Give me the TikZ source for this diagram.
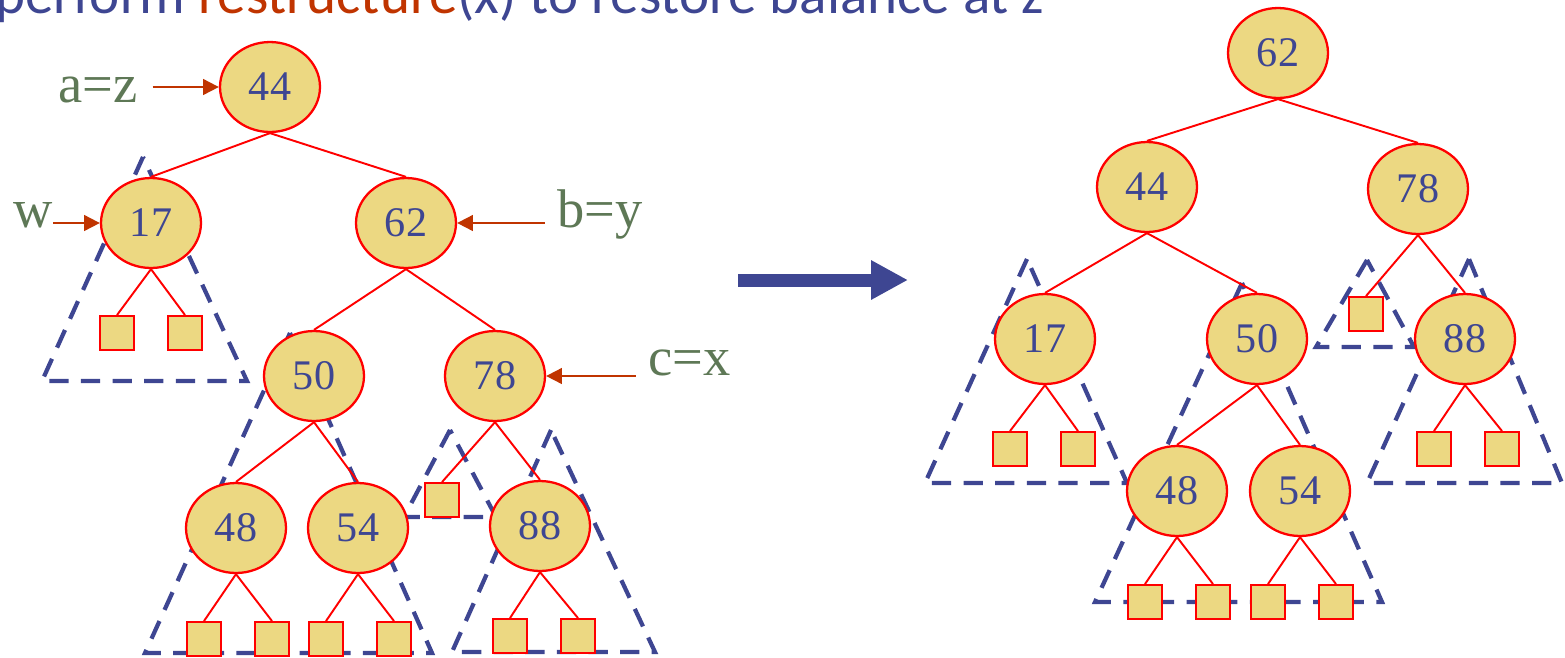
\documentclass[tikz,border=0pt]{standalone}
\usepackage{fontspec}
\setmainfont{Liberation Serif}
\newfontfamily\titlefont{Carlito}
\usetikzlibrary{shapes.geometric,arrows.meta}
\definecolor{avlblue}{RGB}{62,70,146}
\definecolor{avlred}{RGB}{255,0,0}
\definecolor{avlfill}{RGB}{236,216,130}
\definecolor{avlrust}{RGB}{192,52,0}
\definecolor{avlgreen}{RGB}{94,120,86}

\begin{document}
\begin{tikzpicture}[x=0.02cm, y=-0.02cm,
    avl/.style={ellipse, draw=avlred, fill=avlfill, line width=1.3pt,
                minimum width=2cm, minimum height=1.8cm, inner sep=0pt,
                text=avlblue, font=\fontsize{24}{26}\selectfont},
    leaf/.style={rectangle, draw=avlred, fill=avlfill, line width=1.1pt,
                 minimum size=0.68cm, inner sep=0pt},
    link/.style={draw=avlred, line width=1.1pt},
    subtree/.style={draw=avlblue, line width=2.4pt, dash pattern=on 11pt off 7pt},
    lbl/.style={text=avlgreen, font=\fontsize{31}{34}\selectfont,
                inner sep=0pt, anchor=base west},
    ptr/.style={-{Triangle[length=9pt,width=9pt]}, avlrust, line width=1.1pt}]
    \useasboundingbox (0,0) rectangle (1565,657);

    \node[anchor=base west, inner sep=0pt, text=avlblue,
          font=\titlefont\fontsize{32.5}{35}\selectfont] (ttl) at (-5,13)
          {perform \textcolor{avlrust}{restructure}(x) to restore balance at z};

    % subtrees (left)
    \draw[subtree] (143,157) -- (42,381) -- (247,381) -- cycle;
    \draw[subtree] (290,333) -- (145,653) -- (432,653) -- cycle;
    \draw[subtree] (450,430) -- (404,517) -- (496,517) -- cycle;
    \draw[subtree] (551,430) -- (452,652) -- (655,652) -- cycle;
    % subtrees (right)
    \draw[subtree] (1027,259) -- (925,483) -- (1127,483) -- cycle;
    \draw[subtree] (1242,283) -- (1095,602) -- (1382,602) -- cycle;
    \draw[subtree] (1367,260) -- (1316,347) -- (1414,347) -- cycle;
    \draw[subtree] (1469,259) -- (1367,483) -- (1562,483) -- cycle;

    % before
    \node[avl] (l44) at (270,87) {44};
    \node[avl] (l17) at (151,223) {17};
    \node[avl] (l62) at (406,223) {62};
    \node[avl] (l50) at (314,376) {50};
    \node[avl] (l78) at (495,376) {78};
    \node[avl] (l48) at (236,528) {48};
    \node[avl] (l54) at (358,528) {54};
    \node[avl] (l88) at (540,526) {88};
    \node[leaf] (l17a) at (117,333) {};
    \node[leaf] (l17b) at (185,333) {};
    \node[leaf] (l48a) at (204,639) {};
    \node[leaf] (l48b) at (272,639) {};
    \node[leaf] (l54a) at (326,639) {};
    \node[leaf] (l54b) at (394,639) {};
    \node[leaf] (l78a) at (442,500) {};
    \node[leaf] (l88a) at (510,636) {};
    \node[leaf] (l88b) at (578,636) {};
    \draw[link] (l44.south) -- (l17.north);
    \draw[link] (l44.south) -- (l62.north);
    \draw[link] (l62.south) -- (l50.north);
    \draw[link] (l62.south) -- (l78.north);
    \draw[link] (l50.south) -- (l48.north);
    \draw[link] (l50.south) -- (l54.north);
    \draw[link] (l78.south) -- (l78a.north);
    \draw[link] (l78.south) -- (l88.north);
    \draw[link] (l17.south) -- (l17a.north);
    \draw[link] (l17.south) -- (l17b.north);
    \draw[link] (l48.south) -- (l48a.north);
    \draw[link] (l48.south) -- (l48b.north);
    \draw[link] (l54.south) -- (l54a.north);
    \draw[link] (l54.south) -- (l54b.north);
    \draw[link] (l88.south) -- (l88a.north);
    \draw[link] (l88.south) -- (l88b.north);

    % labels
    \node[lbl] (az) at (58,102) {a=z};
    \node[lbl] (w) at (13,227) {w};
    \node[lbl] (by) at (557,227) {b=y};
    \node[lbl] (cx) at (648,375) {c=x};
    \draw[ptr, shorten <=8.5pt] (az.east |- l44.west) -- (l44.west);
    \draw[ptr] (w.east |- l17.west) -- (l17.west);
    \draw[ptr, shorten <=7pt] (by.west |- l62.east) -- (l62.east);
    \draw[ptr, shorten <=7pt] (cx.west |- l78.east) -- (l78.east);

    \coordinate (go) at (738,280);
    \coordinate (done) at (908,280);
    \draw[-{Triangle[length=21pt,width=21pt]}, line width=7.4pt, avlblue] (go) -- (done);

    % after
    \node[avl] (r62) at (1278,53) {62};
    \node[avl] (r44) at (1147,187) {44};
    \node[avl] (r78) at (1418,189) {78};
    \node[avl] (r17) at (1045,339) {17};
    \node[avl] (r50) at (1257,339) {50};
    \node[avl] (r88) at (1465,339) {88};
    \node[avl] (r48) at (1177,491) {48};
    \node[avl] (r54) at (1300,491) {54};
    \node[leaf] (r17a) at (1010,449) {};
    \node[leaf] (r17b) at (1078,449) {};
    \node[leaf] (r78a) at (1366,314) {};
    \node[leaf] (r88a) at (1434,449) {};
    \node[leaf] (r88b) at (1502,449) {};
    \node[leaf] (r48a) at (1145,602) {};
    \node[leaf] (r48b) at (1213,602) {};
    \node[leaf] (r54a) at (1268,602) {};
    \node[leaf] (r54b) at (1336,602) {};
    \draw[link] (r62.south) -- (r44.north);
    \draw[link] (r62.south) -- (r78.north);
    \draw[link] (r44.south) -- (r17.north);
    \draw[link] (r44.south) -- (r50.north);
    \draw[link] (r78.south) -- (r78a.north);
    \draw[link] (r78.south) -- (r88.north);
    \draw[link] (r50.south) -- (r48.north);
    \draw[link] (r50.south) -- (r54.north);
    \draw[link] (r17.south) -- (r17a.north);
    \draw[link] (r17.south) -- (r17b.north);
    \draw[link] (r88.south) -- (r88a.north);
    \draw[link] (r88.south) -- (r88b.north);
    \draw[link] (r48.south) -- (r48a.north);
    \draw[link] (r48.south) -- (r48b.north);
    \draw[link] (r54.south) -- (r54a.north);
    \draw[link] (r54.south) -- (r54b.north);
\end{tikzpicture}
\end{document}
